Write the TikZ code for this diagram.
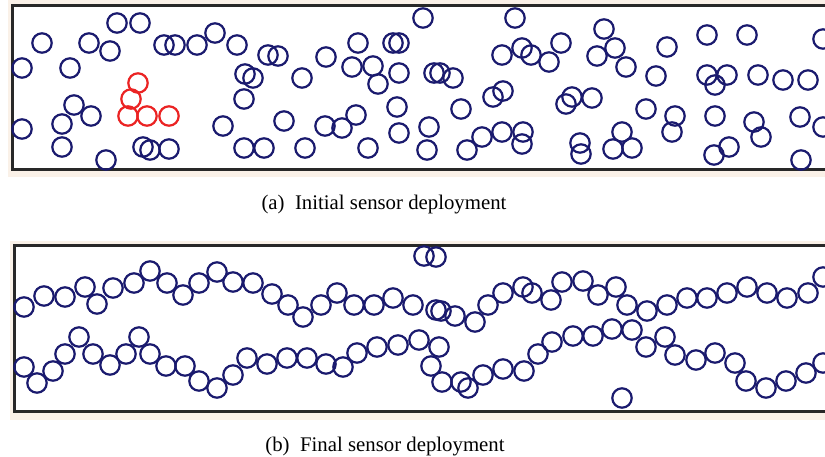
\documentclass[tikz,border=0pt]{standalone}
\usepackage{fontspec}
\setmainfont{Liberation Serif}
\definecolor{sensor}{RGB}{26,26,110}
\definecolor{seed}{RGB}{235,35,35}
\definecolor{paper}{RGB}{250,241,232}
\definecolor{framec}{RGB}{40,40,40}
\begin{document}
\begin{tikzpicture}[x=1pt,y=-1pt,
  sensorring/.style={draw=sensor,line width=2.2pt},
  seedring/.style={draw=seed,line width=2.2pt},
  panelframe/.style={draw=framec,line width=3pt,fill=white},
  captiontext/.style={anchor=base,inner sep=0pt,font=\fontsize{20.8}{24}\selectfont}]
\useasboundingbox (0,0) rectangle (825,457);
\fill[white] (0,0) rectangle (825,457);
% panel backgrounds and frames
\fill[paper] (8,0) rectangle (826,177);
\fill[paper] (10,241) rectangle (826,420);
\draw[panelframe] (12,6) rectangle (832,170);
\draw[panelframe] (14,246) rectangle (832,411);
% (a) random initial deployment
\foreach \x/\y in {117/23,140/23,42/43,89/43,110/51,164/45,175/45,197/45,215/33,
  22/68,70/68,74/105,91/116,62/124,22/129,62/147,143/147,150/150,169/149,106/160,
  237/45,268/55,278/56,326/57,358/43,393/43,399/43,245/74,253/78,302/78,352/67,
  373/66,378/84,399/73,244/99,223/126,284/121,325/126,342/128,356/115,397/107,
  399/133,244/148,264/148,305/148,368/148,
  423/18,515/18,502/55,522/48,531/55,549/62,561/43,604/29,597/56,434/73,440/73,
  453/78,503/91,493/97,461/109,572/97,566/104,592/98,429/127,427/150,467/150,
  482/137,502/132,523/132,522/144,580/143,581/154,
  615/48,626/67,667/47,707/35,747/35,823/39,656/76,707/75,727/75,715/85,758/75,
  783/80,808/80,646/109,675/116,672/132,715/116,754/122,761/137,800/117,823/127,
  622/132,613/149,632/148,729/147,714/155,801/160}
  \draw[sensorring] (\x,\y) circle[radius=9.7pt];
\foreach \x/\y in {138/83,131/99,128/116,147/116,169/116}
  \draw[seedring] (\x,\y) circle[radius=9.7pt];
% (b) final deployment: two chains and stragglers
\foreach \x/\y in {24/307,44/296,65/297,85/287,97/304,113/288,134/283,150/271,
  167/283,183/295,199/283,217/272,233/282,253/283,272/294,288/305,303/317,321/305,
  337/293,354/305,374/305,393/298,413/305,436/310,441/311,455/316,475/322,488/305,
  503/293,523/287,532/293,551/300,562/282,583/281,598/295,616/287,627/305,647/311,
  667/305,687/298,707/298,727/293,747/287,767/293,787/298,808/293,823/277}
  \draw[sensorring] (\x,\y) circle[radius=9.7pt];
\foreach \x/\y in {24/367,37/383,53/371,65/354,79/337,93/354,110/365,126/354,
  139/337,150/354,166/366,185/366,199/381,217/388,233/375,247/358,267/364,287/358,
  307/358,326/364,343/367,357/353,377/347,398/345,419/340,439/347,431/366,442/382,
  461/382,468/388,483/375,503/369,524/371,538/354,552/342,573/336,593/336,612/329,
  632/330,646/347,665/337,675/355,696/360,715/353,735/363,746/381,766/388,786/381,
  806/373,823/363}
  \draw[sensorring] (\x,\y) circle[radius=9.7pt];
\foreach \x/\y in {424/256,436/257,622/398}
  \draw[sensorring] (\x,\y) circle[radius=9.7pt];
% captions
\node[captiontext] (capA) at (384,210) {(a)\hspace{0.5em}Initial sensor deployment};
\node[captiontext] (capB) at (385,451) {(b)\hspace{0.5em}Final sensor deployment};
\end{tikzpicture}
\end{document}
